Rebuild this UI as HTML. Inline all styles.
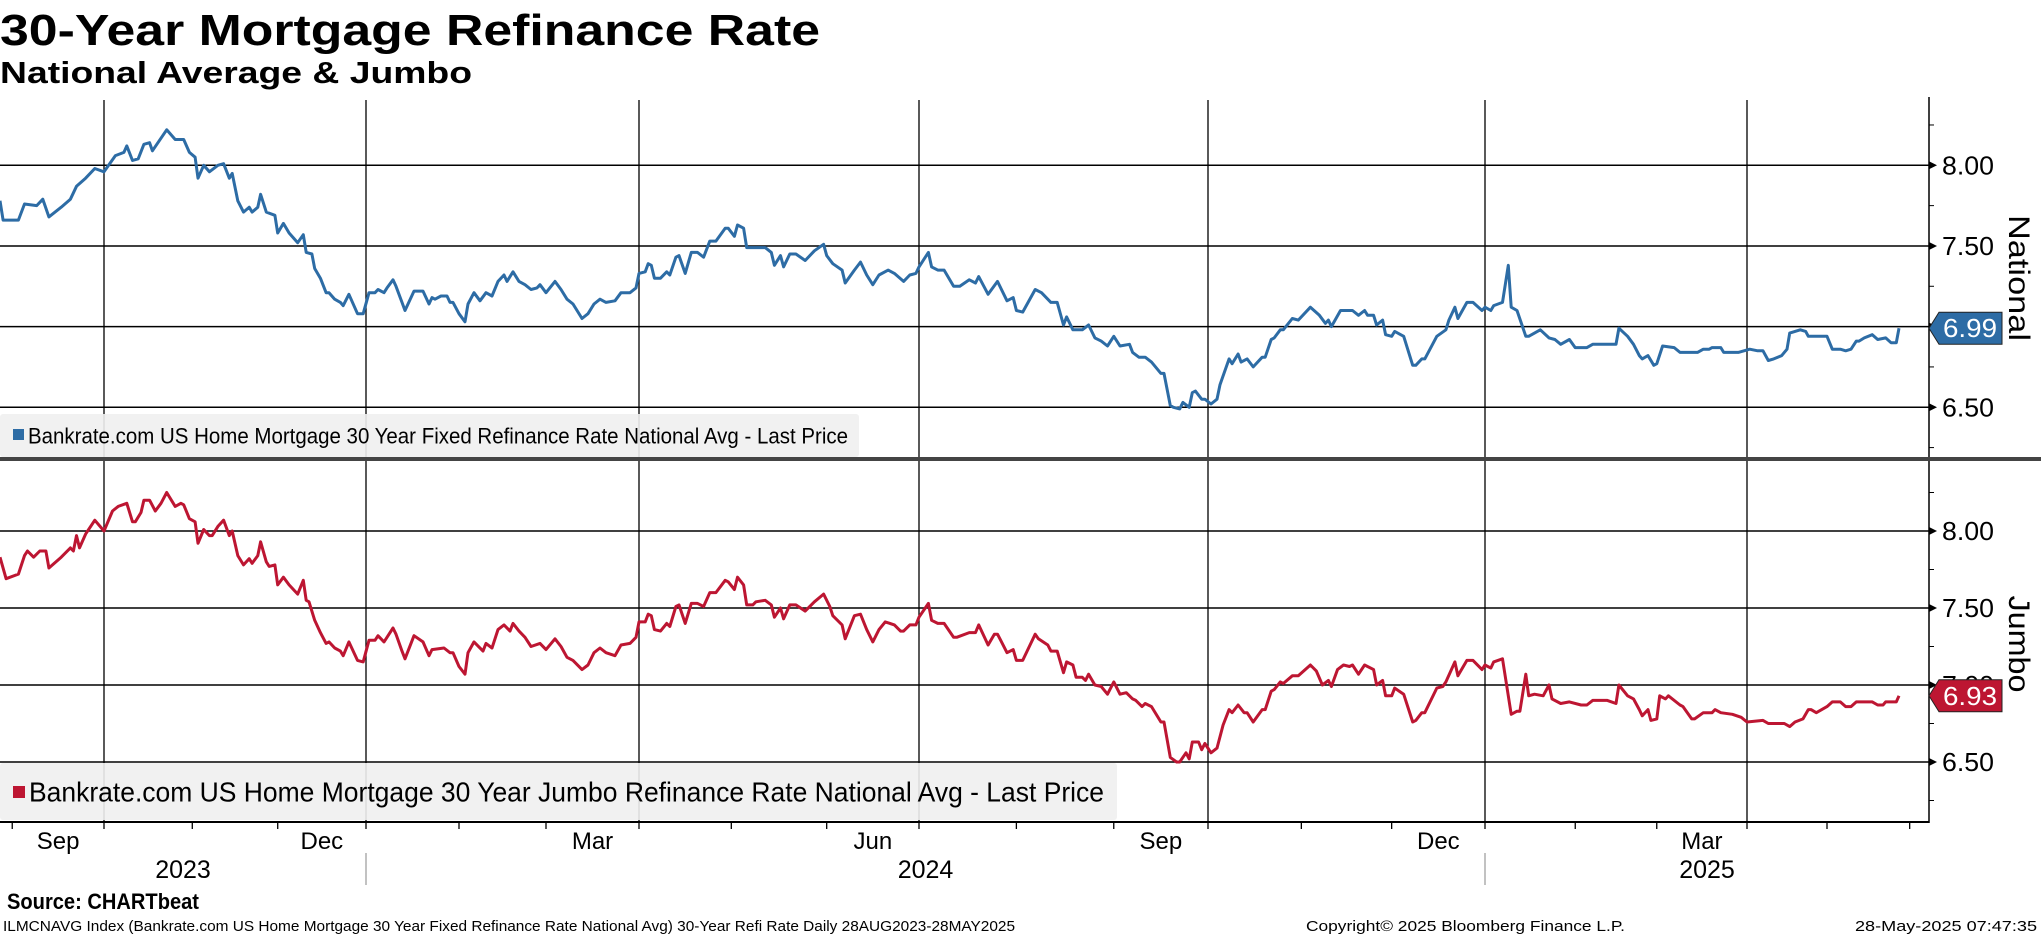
<!DOCTYPE html>
<html><head><meta charset="utf-8"><title>30-Year Mortgage Refinance Rate</title>
<style>html,body{margin:0;padding:0;background:#fff;}svg{display:block;}text{font-family:"Liberation Sans",sans-serif;}</style>
</head><body>
<svg id="chart" xmlns="http://www.w3.org/2000/svg" width="2041" height="936" viewBox="0 0 2041 936">
<text x="0" y="45" font-size="44" font-weight="bold" textLength="820" lengthAdjust="spacingAndGlyphs">30-Year Mortgage Refinance Rate</text>
<text x="0" y="83" font-size="31" font-weight="bold" textLength="472" lengthAdjust="spacingAndGlyphs">National Average &amp; Jumbo</text>
<g id="grid"></g><g id="series"></g><g id="overlay"></g>
<text x="7" y="909" font-size="22" font-weight="bold" textLength="192" lengthAdjust="spacingAndGlyphs">Source: CHARTbeat</text>
<text x="3" y="931" font-size="15" textLength="1012" lengthAdjust="spacingAndGlyphs">ILMCNAVG Index (Bankrate.com US Home Mortgage 30 Year Fixed Refinance Rate National Avg) 30-Year Refi Rate  Daily 28AUG2023-28MAY2025</text>
<text x="1306" y="931" font-size="15" textLength="319" lengthAdjust="spacingAndGlyphs">Copyright© 2025 Bloomberg Finance L.P.</text>
<text x="1855" y="931" font-size="15" textLength="182" lengthAdjust="spacingAndGlyphs">28-May-2025 07:47:35</text>
</svg>
<script>
// days since 2023-08-28
const natDays=[0,1,6,8,12,14,16,20,23,25,28,31,34,38,41,42,44,46,48,50,51,56,59,62,64,66,67,69,71,74,76,78,79,81,83,85,86,88,89,91,94,95,97,99,102,104,105,107,108,110,112,113,115,117,118,120,123,125,127,129,130,132,133,135,136,138,139,142,145,147,148,149,151,153,154,155,157,159,160,162,164,166,168,170,172,173,175,177,179,181,183,184,186,189,191,193,195,198,200,202,204,206,209,211,214,216,217,219,220,221,222,224,226,227,229,230,232,234,236,238,240,242,245,246,248,249,251,252,254,258,260,261,263,264,266,268,271,274,277,278,280,283,284,287,289,291,293,295,298,300,303,305,307,308,311,312,314,316,319,321,324,326,327,330,333,336,338,339,341,345,347,350,352,354,355,357,360,362,364,366,368,370,372,375,376,378,380,382,385,386,388,389,391,392,394,395,396,398,399,401,403,404,407,408,410,411,413,415,418,419,421,422,424,425,428,430,434,437,439,440,441,444,448,450,452,453,455,456,458,459,461,462,465,468,469,471,472,476,479,480,482,483,486,488,491,492,494,495,498,500,501,503,506,507,511,514,516,518,521,523,527,529,537,538,541,543,545,546,548,550,551,553,557,559,565,567,569,570,573,574,579,583,586,588,590,592,595,597,598,600,602,604,605,608,612,614,617,619,621,623,624,626,629,631,634,636,638,639];
const natRates=[7.78,7.66,7.66,7.76,7.75,7.79,7.68,7.74,7.79,7.87,7.92,7.98,7.96,8.06,8.08,8.12,8.03,8.04,8.13,8.14,8.09,8.22,8.16,8.16,8.08,8.05,7.92,8.00,7.96,8.00,8.01,7.92,7.95,7.78,7.71,7.74,7.71,7.74,7.82,7.71,7.69,7.58,7.64,7.58,7.52,7.57,7.46,7.45,7.36,7.30,7.21,7.21,7.17,7.15,7.13,7.20,7.08,7.08,7.21,7.21,7.23,7.21,7.24,7.29,7.25,7.15,7.10,7.22,7.22,7.14,7.18,7.17,7.19,7.19,7.15,7.15,7.08,7.03,7.14,7.21,7.16,7.21,7.19,7.28,7.32,7.28,7.34,7.28,7.26,7.23,7.24,7.26,7.21,7.28,7.23,7.17,7.14,7.05,7.08,7.14,7.17,7.15,7.16,7.21,7.21,7.24,7.33,7.34,7.39,7.38,7.30,7.30,7.34,7.32,7.43,7.44,7.33,7.46,7.46,7.43,7.53,7.53,7.61,7.61,7.56,7.63,7.61,7.49,7.49,7.49,7.46,7.38,7.44,7.37,7.45,7.45,7.41,7.47,7.51,7.44,7.39,7.35,7.27,7.35,7.40,7.32,7.26,7.32,7.35,7.33,7.28,7.32,7.33,7.37,7.46,7.37,7.35,7.35,7.25,7.25,7.29,7.27,7.31,7.20,7.28,7.16,7.18,7.10,7.09,7.23,7.21,7.15,7.15,7.01,7.06,6.98,6.98,7.01,6.93,6.91,6.88,6.94,6.88,6.89,6.84,6.81,6.81,6.78,6.71,6.71,6.51,6.50,6.49,6.53,6.50,6.59,6.60,6.55,6.55,6.52,6.55,6.64,6.80,6.77,6.83,6.78,6.80,6.75,6.81,6.81,6.92,6.93,6.98,6.98,7.05,7.04,7.12,7.07,7.02,7.04,7.00,7.10,7.10,7.07,7.10,7.07,7.07,7.01,7.04,6.95,6.94,6.97,6.94,6.76,6.76,6.80,6.80,6.94,6.98,7.04,7.12,7.05,7.15,7.15,7.10,7.12,7.10,7.13,7.15,7.38,7.12,7.10,6.94,6.94,6.98,6.93,6.92,6.89,6.92,6.87,6.87,6.89,6.89,6.99,6.94,6.89,6.82,6.80,6.82,6.76,6.77,6.88,6.87,6.84,6.84,6.86,6.86,6.87,6.87,6.84,6.84,6.86,6.85,6.85,6.79,6.80,6.82,6.86,6.96,6.97,6.98,6.97,6.94,6.94,6.94,6.86,6.86,6.85,6.86,6.91,6.91,6.93,6.95,6.92,6.93,6.90,6.90,6.99];
const jumboDays=[0,2,6,8,9,11,13,15,16,20,23,24,25,26,28,31,34,37,39,42,44,45,47,48,50,52,54,56,58,59,61,62,64,66,67,69,71,72,74,76,78,79,81,83,85,86,88,89,91,92,94,95,97,99,102,104,105,106,108,110,112,113,115,117,118,120,123,125,127,129,130,132,133,135,136,138,139,142,145,147,148,152,154,155,157,159,160,162,165,166,168,170,172,174,175,177,179,181,184,186,189,191,193,195,198,200,202,204,206,209,211,214,216,217,219,220,221,222,224,226,227,229,230,232,234,236,238,240,242,245,246,248,249,251,252,254,255,258,260,261,263,264,266,268,271,274,277,279,280,283,284,287,289,291,293,295,297,300,302,303,305,307,308,311,312,314,316,319,320,324,326,327,330,332,333,334,336,338,339,341,345,346,349,350,352,354,355,357,358,360,361,362,364,366,368,370,372,374,376,377,379,380,382,385,386,388,390,391,393,394,395,397,398,399,401,403,405,407,408,410,412,413,415,418,419,421,422,424,425,428,430,434,436,438,440,441,443,445,447,448,450,452,455,456,458,459,461,462,465,468,469,471,472,476,478,479,482,483,486,488,491,492,494,495,498,501,503,504,506,507,509,512,514,515,518,521,525,527,529,534,537,538,541,543,545,546,548,549,551,552,554,555,559,560,563,564,567,570,571,573,577,580,582,588,590,596,598,600,603,605,606,608,612,614,617,619,621,623,629,631,633,634,638,639];
const jumboRates=[7.83,7.69,7.72,7.84,7.87,7.83,7.87,7.87,7.76,7.83,7.89,7.87,7.97,7.89,7.98,8.07,8.00,8.13,8.16,8.18,8.06,8.06,8.12,8.20,8.20,8.13,8.18,8.25,8.19,8.16,8.18,8.17,8.08,8.06,7.92,8.01,7.97,7.97,8.03,8.07,7.97,8.00,7.84,7.78,7.82,7.79,7.84,7.93,7.80,7.77,7.78,7.65,7.70,7.65,7.59,7.68,7.55,7.54,7.42,7.34,7.27,7.28,7.24,7.22,7.19,7.28,7.16,7.15,7.29,7.29,7.32,7.28,7.31,7.37,7.33,7.22,7.17,7.32,7.28,7.19,7.23,7.24,7.21,7.21,7.12,7.07,7.21,7.28,7.22,7.27,7.24,7.36,7.39,7.35,7.40,7.35,7.31,7.25,7.27,7.23,7.30,7.25,7.18,7.16,7.10,7.13,7.21,7.24,7.21,7.19,7.26,7.27,7.31,7.41,7.41,7.46,7.45,7.36,7.35,7.40,7.38,7.51,7.52,7.40,7.53,7.53,7.51,7.60,7.60,7.68,7.67,7.62,7.70,7.65,7.52,7.52,7.54,7.55,7.52,7.44,7.50,7.43,7.52,7.52,7.48,7.54,7.59,7.51,7.45,7.39,7.30,7.45,7.46,7.36,7.28,7.36,7.41,7.39,7.35,7.35,7.39,7.39,7.44,7.53,7.42,7.40,7.40,7.31,7.31,7.34,7.34,7.39,7.26,7.33,7.33,7.29,7.21,7.23,7.16,7.16,7.33,7.30,7.26,7.22,7.22,7.08,7.15,7.13,7.05,7.05,7.03,7.07,7.00,6.99,6.94,7.02,6.94,6.95,6.91,6.90,6.86,6.88,6.86,6.76,6.76,6.53,6.50,6.50,6.56,6.52,6.63,6.63,6.58,6.62,6.56,6.59,6.74,6.84,6.82,6.87,6.82,6.82,6.76,6.84,6.84,6.96,6.97,7.02,7.01,7.06,7.06,7.13,7.09,7.00,7.03,6.99,7.10,7.13,7.12,7.13,7.07,7.13,7.10,7.00,7.03,6.93,6.93,6.98,6.94,6.76,6.77,6.82,6.82,6.98,6.99,7.02,7.15,7.06,7.16,7.16,7.10,7.13,7.11,7.15,7.17,6.81,6.83,6.83,7.07,6.93,6.94,6.93,7.00,6.91,6.88,6.89,6.87,6.87,6.90,6.90,6.88,7.00,6.93,6.91,6.84,6.80,6.84,6.77,6.78,6.93,6.91,6.93,6.87,6.86,6.78,6.78,6.82,6.82,6.84,6.82,6.81,6.79,6.76,6.77,6.75,6.75,6.73,6.76,6.78,6.84,6.84,6.82,6.86,6.89,6.89,6.86,6.86,6.89,6.89,6.87,6.87,6.89,6.89,6.93];
const yTickValues=[8.00,7.50,7.00,6.50];
const yMinorValues=[8.25,7.75,7.25,6.75,6.25];
const quarterLabels=['Sep','Dec','Mar','Jun','Sep','Dec','Mar'];
const quarterLabelMonths=['2023-09','2023-12','2024-03','2024-06','2024-09','2024-12','2025-03'];
const yearLabels=['2023','2024','2025'];
const lastNational=6.99;
const lastJumbo=6.93;

const NS='http://www.w3.org/2000/svg';
const BASE=Date.UTC(2023,7,28);
function dayOf(y,m,d){return Math.round((Date.UTC(y,m-1,d)-BASE)/86400000);}
// piecewise time axis calibrated on quarter gridlines
function xScale(d){
  const ad=[0,34,126,217,308,400,492,582,639], ap=[0,104,366,639,919,1208,1485,1747,1899];
  if(d<=ad[0])return ap[0]+(d-ad[0])*3;
  for(let i=1;i<ad.length;i++){if(d<=ad[i])return ap[i-1]+(d-ad[i-1])*(ap[i]-ap[i-1])/(ad[i]-ad[i-1]);}
  return ap[ap.length-1]+(d-ad[ad.length-1])*2.67;
}
function yTop(v){return 165.3+(8-v)*161.3;}
function yBot(v){return 531+(8-v)*154;}
function mk(tag,attrs,parent){const e=document.createElementNS(NS,tag);for(const k in attrs)e.setAttribute(k,attrs[k]);parent.appendChild(e);return e;}
const grid=document.getElementById('grid'),series=document.getElementById('series'),overlay=document.getElementById('overlay');
const AX=1929;
// quarter gridlines
[[2023,10],[2024,1],[2024,4],[2024,7],[2024,10],[2025,1],[2025,4]].forEach(q=>{
  const l=mk('line',{x1:xScale(dayOf(q[0],q[1],1)),x2:xScale(dayOf(q[0],q[1],1)),y1:100,y2:823,stroke:'#000','stroke-width':1.3},grid);
  
  
});
// horizontal gridlines + y labels
[[yTop,'national'],[yBot,'jumbo']].forEach(p=>{
  yTickValues.forEach(v=>{
    const y=p[0](v);
    const l=mk('line',{x1:0,x2:AX,y1:y,y2:y,stroke:'#000','stroke-width':1.5},grid);
    
    
    const a=mk('polygon',{points:`${AX},${y-4} ${AX+8},${y} ${AX},${y+4}`,fill:'#000'},grid);
    
    
    const t=mk('text',{x:1942,y:y+9,'font-size':26,textLength:52,lengthAdjust:'spacingAndGlyphs'},grid);
    t.textContent=v.toFixed(2);
    
    
  });
  yMinorValues.forEach(v=>{
    const y=p[0](v);
    if(y<100||y>823)return;
    const l=mk('line',{x1:AX,x2:AX+5,y1:y,y2:y,stroke:'#000','stroke-width':1},grid);
    
    
  });
});
// axes
let ax=mk('line',{x1:AX,x2:AX,y1:97,y2:823,stroke:'#000','stroke-width':1.5},grid);


ax=mk('line',{x1:0,x2:AX,y1:822,y2:822,stroke:'#000','stroke-width':2},grid);


// month ticks
for(let y=2023,m=9;y<2025||m<=6;){const d=dayOf(y,m,1);const x=xScale(d);
  const t=mk('line',{x1:x,x2:x,y1:822,y2:829,stroke:'#000','stroke-width':1.3},grid);
  
  
  m++;if(m>12){m=1;y++;}}
// quarter labels at mid-month
quarterLabels.forEach((lab,i)=>{
  const [yy,mm]=quarterLabelMonths[i].split('-').map(Number);
  const x=(xScale(dayOf(yy,mm,1))+xScale(dayOf(mm===12?yy+1:yy,mm===12?1:mm+1,1)))/2;
  const t=mk('text',{x:x,y:849,'font-size':24,'text-anchor':'middle'},grid);
  t.textContent=lab;
  
  
});
// year labels & separators
const yb=[xScale(0),xScale(dayOf(2024,1,1)),xScale(dayOf(2025,1,1)),AX];
yearLabels.forEach((lab,i)=>{
  const t=mk('text',{x:(yb[i]+yb[i+1])/2,y:878,'font-size':25,'text-anchor':'middle'},grid);
  t.textContent=lab;
  
  
});
[1,2].forEach(i=>{const l=mk('line',{x1:yb[i],x2:yb[i],y1:853,y2:885,stroke:'#999','stroke-width':1.2},grid);
  
  });
// series
function path(days,vals,ys){return days.map((d,i)=>(i?'L':'M')+xScale(d).toFixed(1)+','+ys(vals[i]).toFixed(1)).join('');}
const pn=mk('path',{d:path(natDays,natRates,yTop),fill:'none',stroke:'#2d6ca5','stroke-width':3,'stroke-linejoin':'round'},series);


const pj=mk('path',{d:path(jumboDays,jumboRates,yBot),fill:'none',stroke:'#bd1632','stroke-width':3,'stroke-linejoin':'round'},series);


// legends
function legend(name,x,y,w,h,color,fs,sq,txt,tl){
  const g=mk('g',{},overlay);
  
  
  mk('rect',{x:x,y:y,width:w,height:h,rx:3,fill:'#f0f0f0','fill-opacity':0.9},g);
  mk('rect',{x:sq[0],y:sq[1],width:sq[2],height:sq[2],fill:color},g);
  const t=mk('text',{x:sq[0]+sq[2]+4,y:y+h/2+fs*0.36,'font-size':fs,textLength:tl,lengthAdjust:'spacingAndGlyphs'},g);
  t.textContent=txt;
}
legend('national-legend',0,414,859,43,'#2d6ca5',22,[13,429,11],'Bankrate.com US Home Mortgage 30 Year Fixed Refinance Rate National Avg - Last Price',820);
legend('jumbo-legend',0,763,1117,57,'#bd1632',28,[13,786,12],'Bankrate.com US Home Mortgage 30 Year Jumbo Refinance Rate National Avg - Last Price',1075);
// separator
const sep=mk('rect',{x:0,y:457,width:2041,height:4,fill:'#444'},overlay);


// value tags
function tag(name,v,ys,color){
  const y=ys(v);
  const g=mk('g',{},overlay);
  
  
  mk('polygon',{points:`${AX},${y} ${AX+10},${y-16} ${2002},${y-16} ${2002},${y+16} ${AX+10},${y+16}`,fill:color,stroke:'#222','stroke-width':1},g);
  const t=mk('text',{x:1943,y:y+9,'font-size':26,fill:'#fff',textLength:54,lengthAdjust:'spacingAndGlyphs'},g);
  t.textContent=v.toFixed(2);
}
tag('national-last-value-tag',lastNational,yTop,'#2d6ca5');
tag('jumbo-last-value-tag',lastJumbo,yBot,'#bd1632');
// rotated panel titles
function rot(name,txt,cy,len){
  const t=mk('text',{x:0,y:0,'font-size':30,transform:`translate(2009,${cy}) rotate(90)`,'text-anchor':'middle',textLength:len,lengthAdjust:'spacingAndGlyphs'},overlay);
  t.textContent=txt;
  
  
}
rot('national-axis-title','National',278,126);
rot('jumbo-axis-title','Jumbo',644,97);
</script>
</body></html>
